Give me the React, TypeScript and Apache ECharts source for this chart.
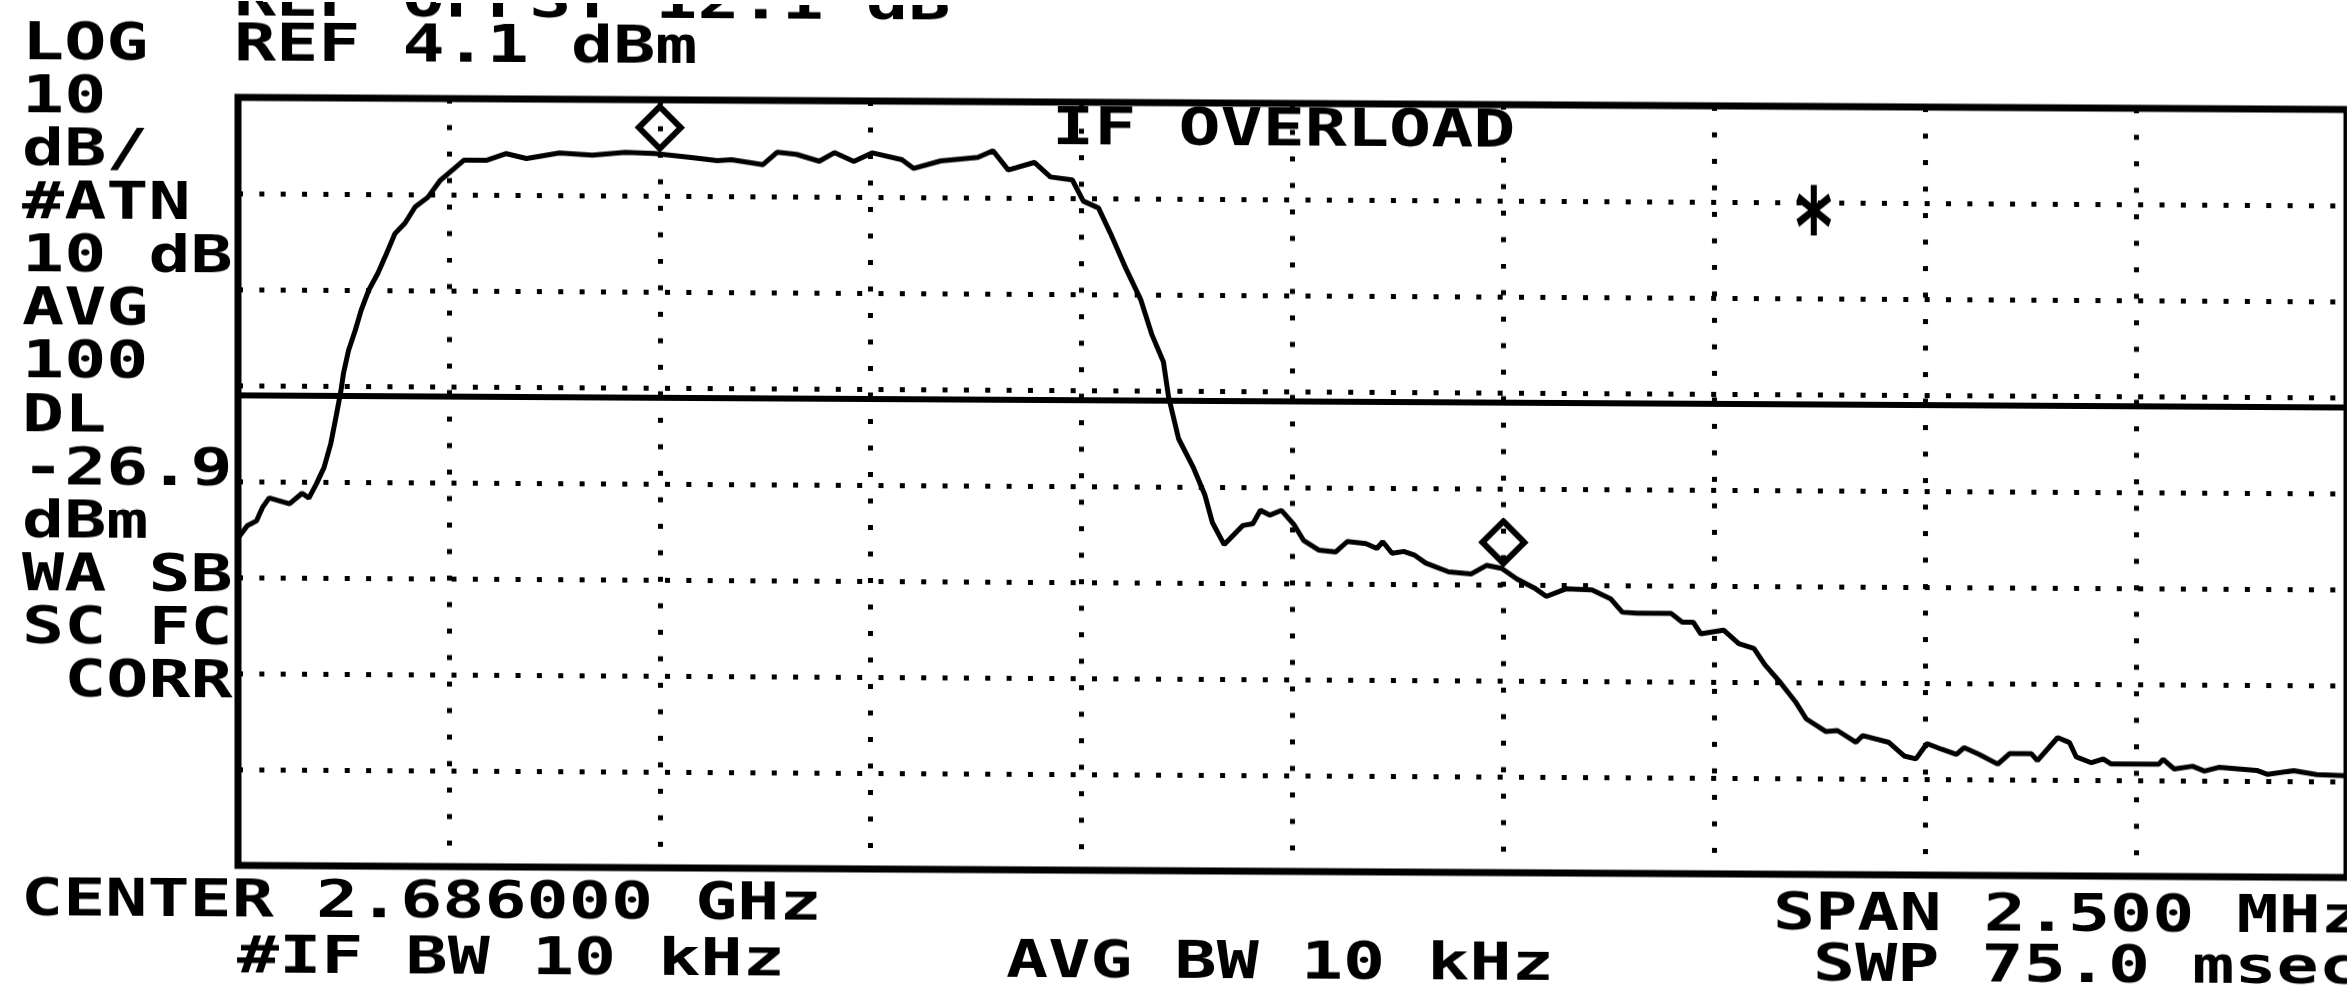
import React, { useEffect, useRef } from "react";
import * as echarts from "echarts";

// ---- data ----
const CENTER_MHZ = 2686.0;
const SPAN_MHZ = 2.5;
const REF_LEVEL_DBM = 4.1;
const DB_PER_DIV = 10;
const Y_DIVS = 8;
const DISPLAY_LINE_DBM = -26.9;

const freqMHz = [
  2684.750, 2684.761, 2684.772, 2684.779, 2684.787, 2684.811, 2684.826, 2684.834, 2684.843, 2684.852,
  2684.860, 2684.866, 2684.872, 2684.875, 2684.881, 2684.889, 2684.896, 2684.905, 2684.916, 2684.924,
  2684.936, 2684.948, 2684.960, 2684.975, 2684.990, 2685.006, 2685.018, 2685.045, 2685.068, 2685.092,
  2685.131, 2685.170, 2685.209, 2685.244, 2685.287, 2685.318, 2685.335, 2685.372, 2685.389, 2685.412,
  2685.439, 2685.457, 2685.480, 2685.502, 2685.537, 2685.551, 2685.583, 2685.627, 2685.645, 2685.663,
  2685.694, 2685.713, 2685.739, 2685.752, 2685.770, 2685.784, 2685.802, 2685.820, 2685.833, 2685.847,
  2685.853, 2685.865, 2685.882, 2685.896, 2685.905, 2685.919, 2685.941, 2685.953, 2685.962, 2685.973,
  2685.987, 2686.002, 2686.013, 2686.031, 2686.051, 2686.065, 2686.087, 2686.100, 2686.107, 2686.118,
  2686.132, 2686.145, 2686.158, 2686.185, 2686.212, 2686.230, 2686.248, 2686.266, 2686.288, 2686.301,
  2686.324, 2686.355, 2686.377, 2686.391, 2686.408, 2686.449, 2686.462, 2686.475, 2686.484, 2686.511,
  2686.529, 2686.547, 2686.560, 2686.578, 2686.596, 2686.609, 2686.632, 2686.646, 2686.668, 2686.676,
  2686.707, 2686.725, 2686.739, 2686.752, 2686.770, 2686.787, 2686.796, 2686.814, 2686.836, 2686.850,
  2686.876, 2686.883, 2686.907, 2686.921, 2686.929, 2686.947, 2686.961, 2686.970, 2687.027, 2687.032,
  2687.045, 2687.067, 2687.081, 2687.098, 2687.143, 2687.156, 2687.187, 2687.214, 2687.250,
];

const levelDbm = [
  -41.8, -40.5, -40.0, -38.6, -37.6, -38.2, -37.1, -37.6, -36.1, -34.4,
  -31.9, -29.2, -26.4, -24.6, -22.2, -20.1, -18.0, -15.9, -14.1, -12.5,
  -10.0, -8.9, -7.2, -6.2, -4.4, -3.2, -2.3, -2.3, -1.6, -2.1,
  -1.5, -1.7, -1.4, -1.5, -1.9, -2.2, -2.1, -2.6, -1.3, -1.5,
  -2.2, -1.3, -2.2, -1.3, -2.0, -2.9, -2.1, -1.7, -1.0, -3.0,
  -2.2, -3.7, -4.0, -6.2, -6.9, -9.5, -13.1, -16.4, -20.0, -22.9,
  -26.5, -30.9, -33.8, -36.7, -39.6, -41.9, -39.9, -39.7, -38.3, -38.8,
  -38.3, -39.8, -41.4, -42.4, -42.6, -41.5, -41.7, -42.2, -41.5, -42.7,
  -42.5, -42.9, -43.7, -44.6, -44.8, -43.9, -44.2, -45.3, -46.3, -47.1,
  -46.3, -46.4, -47.3, -48.7, -48.8, -48.8, -49.7, -49.7, -50.9, -50.5,
  -51.9, -52.4, -54.1, -55.9, -57.9, -59.7, -61.0, -60.9, -62.1, -61.4,
  -62.1, -63.5, -63.8, -62.2, -62.8, -63.3, -62.6, -63.3, -64.3, -63.2,
  -63.2, -63.9, -61.5, -62.0, -63.5, -64.1, -63.7, -64.2, -64.2, -63.7,
  -64.7, -64.4, -64.9, -64.5, -64.8, -65.2, -64.8, -65.2, -65.3,
];

const markerFreqMHz = [2685.25, 2686.25];
const markerDbm = [-1.5, -44.2];

const leftAnnotations = [
  "LOG", "10", "dB/", "#ATN", "10 dB", "AVG", "100", "DL", "-26.9", "dBm", "WA SB", "SC FC", " CORR",
];

const topLines = ["REF OFFST 12.1 dB", "REF 4.1 dBm"];
const overloadText = "IF OVERLOAD";
const bottomLeft = ["CENTER 2.686000 GHz", "#IF BW 10 kHz"];
const bottomMid = "AVG BW 10 kHz";
const bottomRight = ["SPAN 2.500 MHz", "SWP 75.0 msec"];

// ---- styling ----
const FONT_FAMILY = '"DejaVu Sans Mono", "Liberation Mono", monospace';
const FONT_SIZE = 70;
const SCALE_Y = 0.725;

function label(text: string, x: number, y: number) {
  return {
    type: "text",
    x,
    y,
    scaleY: SCALE_Y,
    silent: true,
    z: 100,
    style: {
      text,
      fill: "#000",
      font: `bold ${FONT_SIZE}px ${FONT_FAMILY}`,
      align: "left",
      verticalAlign: "middle",
      textAlign: "left",
      textVerticalAlign: "middle",
    },
  };
}

export default function App() {
  const ref = useRef<HTMLDivElement>(null);

  useEffect(() => {
    if (!ref.current) return;
    const chart = echarts.init(ref.current, undefined, { renderer: "svg" });

    const xMin = CENTER_MHZ - SPAN_MHZ / 2;
    const xMax = CENTER_MHZ + SPAN_MHZ / 2;
    const yMax = REF_LEVEL_DBM;
    const yMin = -75.9;

    const graphics: any[] = [];
    leftAnnotations.forEach((t, i) => graphics.push(label(t, 22, 41 + 53.1 * i)));
    graphics.push(label(topLines[0], 234, -4));
    graphics.push(label(topLines[1], 234, 41));
    graphics.push(label(overloadText, 1052, 120));
    graphics.push(label(bottomLeft[0], 21, 897));
    graphics.push(label(bottomLeft[1], 237, 953));
    graphics.push(label(bottomMid, 1006, 953));
    graphics.push(label(bottomRight[0], 1773, 901));
    graphics.push(label(bottomRight[1], 1813, 952));
    graphics.push({
      type: "text",
      x: 1814,
      y: 218,
      scaleX: 0.8,
      scaleY: 1.2,
      silent: true,
      z: 100,
      style: {
        text: "*",
        fill: "#000",
        font: `bold 90px ${FONT_FAMILY}`,
        align: "center",
        verticalAlign: "middle",
        textAlign: "center",
        textVerticalAlign: "middle",
      },
    });

    chart.setOption({
      animation: false,
      backgroundColor: "#fff",
      grid: {
        left: 238,
        top: 96,
        width: 2135,
        height: 768,
        show: true,
        borderColor: "#000",
        borderWidth: 7,
        backgroundColor: "transparent",
        containLabel: false,
      },
      xAxis: {
        type: "value",
        min: xMin,
        max: xMax,
        interval: SPAN_MHZ / 10,
        axisLabel: { show: false },
        axisTick: { show: false },
        axisLine: { show: false },
        splitLine: {
          show: true,
          lineStyle: { color: "#000", width: 5, type: [5, 21.5], cap: "butt" },
        },
      },
      yAxis: {
        type: "value",
        min: yMin,
        max: yMax,
        interval: DB_PER_DIV,
        splitNumber: Y_DIVS,
        axisLabel: { show: false },
        axisTick: { show: false },
        axisLine: { show: false },
        splitLine: {
          show: true,
          lineStyle: { color: "#000", width: 5, type: [5, 16.35], cap: "butt" },
        },
      },
      series: [
        {
          type: "line",
          data: freqMHz.map((f, i) => [f, levelDbm[i]]),
          showSymbol: false,
          symbol: "none",
          lineStyle: { color: "#000", width: 5 },
          z: 3,
          markLine: {
            silent: true,
            symbol: "none",
            label: { show: false },
            lineStyle: { color: "#000", width: 6, type: "solid", opacity: 1 },
            data: [{ yAxis: DISPLAY_LINE_DBM }],
          },
        },
        {
          type: "scatter",
          data: markerFreqMHz.map((f, i) => [f, markerDbm[i]]),
          symbol: "diamond",
          symbolSize: [42, 42],
          symbolOffset: [0, -26],
          itemStyle: {
            color: "rgba(255,255,255,0)",
            borderColor: "#000",
            borderWidth: 6,
            opacity: 1,
          },
          z: 4,
        },
      ],
      graphic: graphics,
    });

    return () => chart.dispose();
  }, []);

  return (
    <div
      ref={ref}
      style={{
        position: "fixed",
        left: 0,
        top: 0,
        width: 2347,
        height: 994,
        background: "#fff",
        transform: "skewY(0.33deg)",
        transformOrigin: "0 0",
      }}
    />
  );
}
